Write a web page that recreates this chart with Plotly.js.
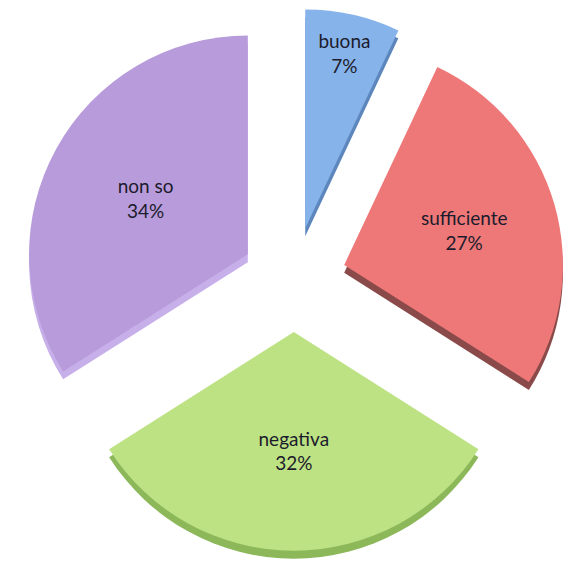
<!DOCTYPE html>
<html>
<head>
<meta charset="utf-8">
<script src="https://cdn.plot.ly/plotly-3.0.1.min.js"></script>
<style>html,body{margin:0;padding:0;background:#fff;}#chart{width:565px;height:567px;}</style>
</head>
<body>
<div id="chart"></div>
<script>
const categories = ["buona", "sufficiente", "negativa", "non so"];
const values = [7, 27, 32, 34];
const topColors = ["#86b3ea", "#ee7878", "#bde283", "#b89bdb"];
const sideColors = ["#5d86bd", "#8a4a4a", "#8cb85a", "#c7b0ea"];
const pulls = [0.24, 0.24, 0.24, 0.24];

const shadowTrace = {
  type: "pie",
  labels: categories,
  values: values,
  sort: false,
  direction: "clockwise",
  rotation: 0,
  pull: pulls,
  marker: {colors: sideColors, line: {width: 0}},
  textinfo: "none",
  hoverinfo: "skip",
  domain: {x: [0.04, 1], y: [0, 0.986]},
  showlegend: false
};

const faceTrace = {
  type: "pie",
  labels: categories,
  values: values,
  sort: false,
  direction: "clockwise",
  rotation: 0,
  pull: pulls,
  marker: {colors: topColors, line: {width: 0}},
  texttemplate: "%{label}<br>%{percent:.0%}",
  textposition: "inside",
  insidetextorientation: "horizontal",
  textfont: {family: "Lato, 'Open Sans', sans-serif", size: 19, color: "#1c1c2c"},
  domain: {x: [0.04, 1], y: [0.014, 1]},
  showlegend: false
};

Plotly.newPlot("chart", [shadowTrace, faceTrace], {
  width: 565,
  height: 567,
  margin: {l: 0, r: 0, t: 0, b: 0},
  paper_bgcolor: "#ffffff",
  showlegend: false,
  uniformtext: {mode: "show", minsize: 19}
}, {staticPlot: true});
</script>
</body>
</html>
